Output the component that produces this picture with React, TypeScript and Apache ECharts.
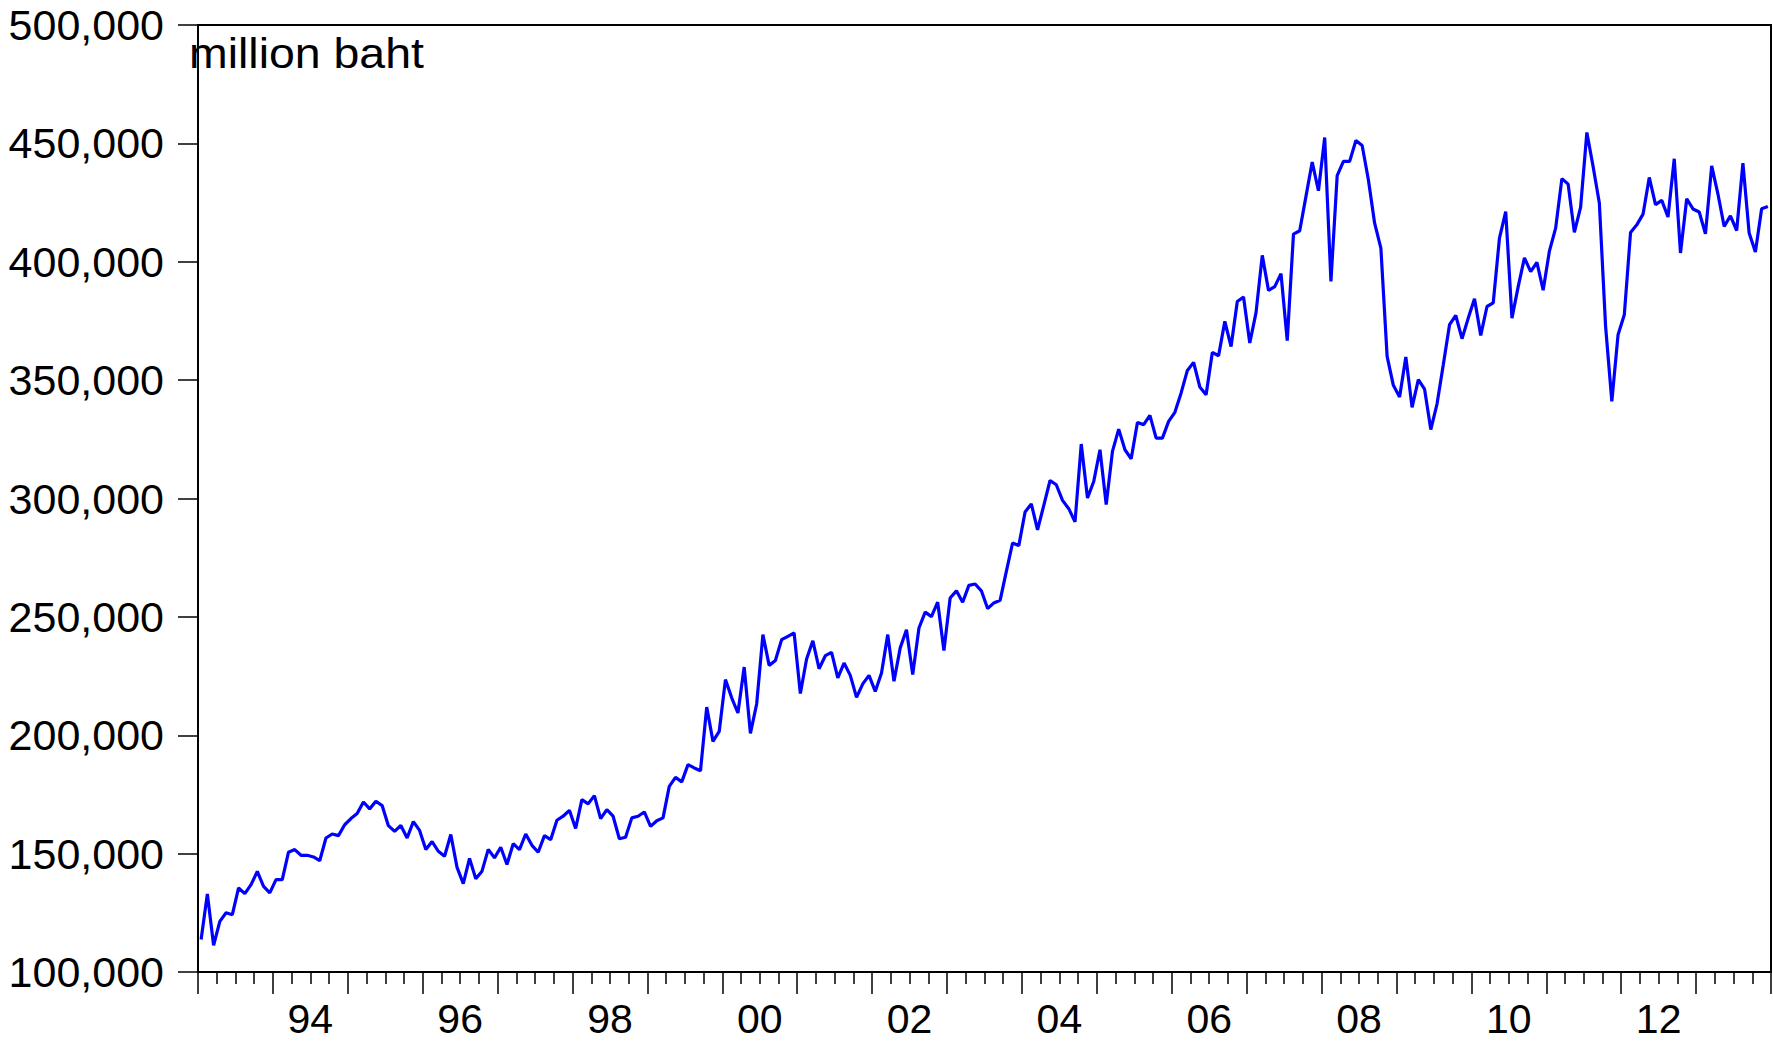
import React, { useEffect, useRef } from "react";
import * as echarts from "echarts";

// Monthly values, million baht, 1993M01 - 2013M12
const startYear = 1993;
const y1993 = [113700, 133000, 111300, 121400, 125000, 124200, 135500, 133100, 136900, 142500, 136200, 133400];
const y1994 = [139000, 139000, 150600, 151700, 149300, 149300, 148600, 147000, 156600, 158300, 157600, 162200];
const y1995 = [164800, 166900, 171800, 168900, 172100, 170300, 161800, 159400, 161900, 156600, 163500, 159800];
const y1996 = [151700, 155100, 151000, 148900, 158100, 144200, 137300, 148000, 139400, 142600, 151800, 148200];
const y1997 = [152700, 145400, 154200, 151700, 158300, 153500, 150600, 157600, 155900, 164100, 165800, 168300];
const y1998 = [160600, 172800, 171000, 174500, 164800, 168600, 165800, 156300, 156900, 165100, 165800, 167600];
const y1999 = [161500, 163900, 165100, 178400, 182200, 180300, 187600, 186200, 185000, 211900, 197400, 201600];
const y2000 = [223500, 215800, 209400, 228800, 200800, 213200, 242500, 229500, 231600, 240400, 241800, 243200];
const y2001 = [217600, 232200, 239900, 228100, 233600, 235000, 224200, 230500, 225300, 216000, 221700, 225300];
const y2002 = [218500, 226300, 242500, 222800, 236900, 244600, 225600, 245300, 252000, 250100, 256200, 235800];
const y2003 = [258000, 261000, 256200, 263300, 263900, 261000, 253500, 255900, 257000, 269200, 281200, 280100];
const y2004 = [294300, 297700, 286800, 297100, 307600, 305800, 299200, 295700, 290100, 323000, 300200, 307200];
const y2005 = [320600, 297400, 319900, 329300, 320600, 316800, 332100, 331200, 335100, 325500, 325500, 332600];
const y2006 = [336400, 344600, 354100, 357500, 347100, 343800, 361700, 360300, 374800, 364200, 383200, 385100];
const y2007 = [365700, 378500, 402700, 387900, 389500, 395000, 366700, 411700, 413100, 427600, 442100, 430000];
const y2008 = [452500, 391700, 436400, 442400, 442400, 451200, 449100, 434600, 416300, 405800, 360000, 347800];
const y2009 = [342900, 359800, 338500, 350200, 346200, 329100, 340000, 356500, 373400, 377300, 367500, 376200];
const y2010 = [384400, 368900, 381100, 382600, 410000, 421200, 376200, 389500, 401600, 395800, 399700, 388000];
const y2011 = [404500, 414200, 435100, 432800, 412400, 423100, 454600, 440200, 424800, 372700, 341000, 369200];
const y2012 = [377600, 412400, 415600, 420100, 435600, 424100, 425900, 418900, 443500, 403700, 426600, 422300];
const y2013 = [421000, 411800, 440500, 428600, 414900, 419400, 413200, 441700, 412100, 404100, 422400, 423300];

const yearlyValues = [
  y1993, y1994, y1995, y1996, y1997, y1998, y1999, y2000, y2001, y2002, y2003,
  y2004, y2005, y2006, y2007, y2008, y2009, y2010, y2011, y2012, y2013,
];
const values: number[] = yearlyValues.flat();
const months: string[] = values.map(
  (_, i) => `${startYear + Math.floor(i / 12)}M${String((i % 12) + 1).padStart(2, "0")}`
);

const yearLabels = ["94", "96", "98", "00", "02", "04", "06", "08", "10", "12"];
const unitLabel = "million baht";
const yMin = 100000;
const yMax = 500000;
const yStep = 50000;

const FONT = "'Liberation Sans', Arial, Helvetica, sans-serif";

export default function App() {
  const ref = useRef<HTMLDivElement>(null);

  useEffect(() => {
    if (!ref.current) return;
    const chart = echarts.init(ref.current, null, { renderer: "svg" });
    const nMonths = months.length;
    chart.setOption({
      animation: false,
      backgroundColor: "#ffffff",
      grid: {
        left: 198,
        top: 25,
        width: 1573,
        height: 947,
        show: true,
        borderColor: "#000000",
        borderWidth: 2,
        backgroundColor: "transparent",
        containLabel: false,
        outerBoundsMode: "none",
      },
      xAxis: [
        {
          type: "value",
          position: "bottom",
          min: 0,
          max: nMonths,
          interval: 12,
          axisLine: { show: true, lineStyle: { color: "#000", width: 2 } },
          axisTick: { show: true, inside: false, length: 22, lineStyle: { color: "#000", width: 1.5 } },
          minorTick: { show: true, splitNumber: 4, length: 12, lineStyle: { color: "#000", width: 1.5 } },
          axisLabel: { show: false },
          splitLine: { show: false },
          minorSplitLine: { show: false },
        },
        {
          type: "value",
          position: "bottom",
          offset: 0,
          min: 0,
          max: nMonths,
          interval: 6,
          axisLine: { show: false },
          axisTick: { show: false },
          splitLine: { show: false },
          axisLabel: {
            show: true,
            margin: 32,
            fontSize: 41,
            lineHeight: 30,
            fontFamily: FONT,
            color: "#000",
            formatter: (v: number) => {
              const k = (v - 18) / 24;
              return Number.isInteger(k) && k >= 0 && k < yearLabels.length ? yearLabels[k] : "";
            },
          },
        },
      ],
      yAxis: {
        type: "value",
        min: yMin,
        max: yMax,
        interval: yStep,
        axisLine: { show: true, lineStyle: { color: "#000", width: 2 } },
        axisTick: { show: true, inside: false, length: 20, lineStyle: { color: "#000", width: 1.5 } },
        splitLine: { show: false },
        axisLabel: {
          margin: 34,
          fontSize: 43,
          fontFamily: FONT,
          color: "#000",
          padding: [0, 0, 12, 0],
          formatter: (v: number) => v.toLocaleString("en-US"),
        },
      },
      graphic: [
        {
          type: "text",
          x: 189,
          y: 31,
          scaleX: 1.08,
          style: {
            text: unitLabel,
            fontSize: 43,
            fontFamily: FONT,
            fill: "#000",
            verticalAlign: "top",
          },
        },
      ],
      series: [
        {
          type: "line",
          name: "value",
          xAxisIndex: 0,
          yAxisIndex: 0,
          data: values.map((v, i) => [i + 0.5, v]),
          showSymbol: false,
          symbol: "none",
          lineStyle: { color: "#0000ff", width: 3.2 },
        },
      ],
    });
    return () => chart.dispose();
  }, []);

  return (
    <div
      ref={ref}
      style={{ position: "fixed", left: 0, top: 0, width: 1773, height: 1042, background: "#fff" }}
    />
  );
}
